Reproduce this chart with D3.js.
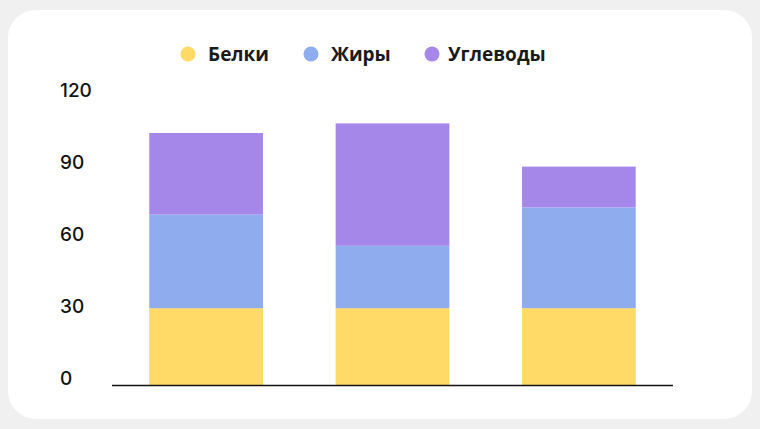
<!DOCTYPE html>
<html><head><meta charset="utf-8">
<script src="https://cdn.jsdelivr.net/npm/d3@7"></script>
<style>body{margin:0;background:#f0f0f0;}</style></head>
<body><svg id="c" width="760" height="429"></svg>
<script>
const categories = ["A","B","C"];
const seriesNames = ["Белки","Жиры","Углеводы"];
const protein = [32,32,32];
const fats = [39,26,42];
const carbs = [34,51,17];
const ticks = [0,30,60,90,120];
const colors = ["#ffda66","#8eacee","#a487e8"];

const svg = d3.select("#c");
svg.append("rect").attr("x",8).attr("y",10).attr("width",744).attr("height",409).attr("rx",28).attr("fill","#fff");

const y = d3.scaleLinear().domain([0,120]).range([385,97]);
const x = d3.scaleBand().domain(categories).range([112,673]).paddingInner(0.39).paddingOuter(0.2);

const rows = categories.map((c,i)=>({cat:c,"Белки":protein[i],"Жиры":fats[i],"Углеводы":carbs[i]}));
const stack = d3.stack().keys(seriesNames)(rows);
svg.selectAll("g.s").data(stack).join("g").attr("fill",(d,i)=>colors[i])
  .selectAll("rect").data(d=>d).join("rect")
  .attr("x",d=>x(d.data.cat)).attr("width",x.bandwidth())
  .attr("y",d=>y(d[1])).attr("height",d=>y(d[0])-y(d[1]));

const ax = svg.append("g").attr("transform","translate(60,0)")
  .call(d3.axisLeft(y).tickValues(ticks).tickSize(0).tickFormat(d3.format("d")));
ax.select(".domain").remove();
ax.selectAll("text").attr("text-anchor","start").attr("x",0).attr("dy","-0.05em")
  .attr("font-family","Inter, sans-serif").attr("font-size",19).attr("font-weight",500).attr("fill","#111");

svg.append("line").attr("x1",112).attr("x2",673).attr("y1",385.5).attr("y2",385.5).attr("stroke","#111").attr("stroke-width",1.5);

const legX=[188,311,432];
const lg = svg.selectAll("g.l").data(seriesNames).join("g").attr("transform",(d,i)=>`translate(${legX[i]},54)`);
lg.append("circle").attr("r",7.5).attr("fill",(d,i)=>colors[i]);
lg.append("text").attr("x",(d,i)=>i==2?16:20).attr("dy","0.35em").text(d=>d)
  .attr("font-family","Open Sans, sans-serif").attr("font-weight",700).attr("font-size",19).attr("fill","#1a1a1a");
</script></body></html>
